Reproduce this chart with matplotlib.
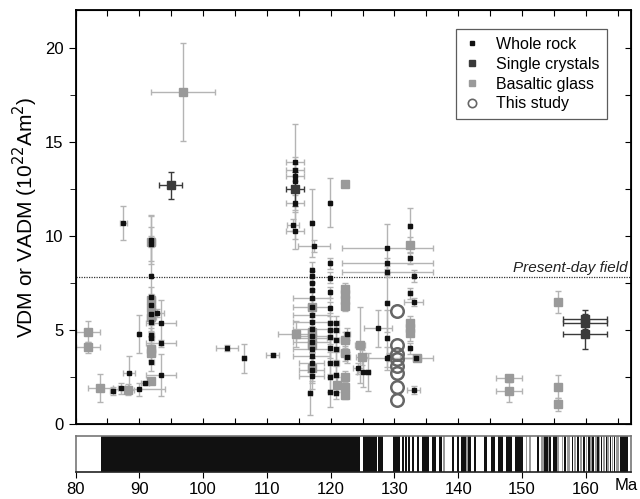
import numpy as np
import matplotlib
matplotlib.use("Agg")
import matplotlib.pyplot as plt
from matplotlib.lines import Line2D
import matplotlib.transforms as mtransforms

plt.rcParams["font.family"] = ["Liberation Sans", "DejaVu Sans"]

# ---- whole rock: age (Ma), VDM, age error, VDM error ----
wr_age = [87.5, 85.8, 87.2, 89.9, 88.4, 89.9, 90.9, 91.9, 91.9, 91.9, 91.9, 91.9, 91.9,
          91.9, 91.9, 91.9, 91.9, 92.7, 93.4, 93.4, 93.4, 103.8, 106.4, 110.9,
          114.4, 114.4, 114.4, 114.4, 114.1, 114.4, 114.4, 117.0, 117.4,
          117.0, 117.0, 117.0, 117.0, 117.0, 117.0, 117.0, 117.0, 117.0, 117.0, 117.0,
          117.0, 117.0, 117.0, 117.0, 117.0, 116.8,
          119.9, 119.9, 119.9, 119.9, 119.9, 119.9, 119.9, 119.9, 119.9, 119.9, 119.9, 119.9,
          120.9, 120.9, 120.9, 120.9, 120.9, 120.9, 120.9, 122.6, 122.6, 124.3, 125.0,
          125.9, 127.4, 129.2, 128.9, 128.9, 128.9, 128.9, 128.9, 128.9,
          132.4, 132.4, 133.0, 132.4, 133.0, 132.4, 133.0, 133.4]
wr_vdm = [10.67, 1.75, 1.90, 1.86, 2.70, 4.79, 2.20, 7.87, 9.79, 9.55, 6.77, 6.33, 5.85,
          5.40, 4.73, 4.55, 3.31, 5.90, 5.39, 4.29, 2.61, 4.06, 3.49, 3.67,
          13.90, 13.50, 13.19, 11.77, 10.58, 10.28, 12.90, 10.70, 9.47,
          8.20, 7.85, 7.50, 7.10, 6.70, 6.20, 5.80, 5.40, 5.05, 4.70, 4.35,
          4.00, 3.60, 3.25, 2.90, 2.55, 1.63,
          11.77, 8.55, 7.78, 7.00, 6.19, 5.37, 5.00, 4.65, 4.04, 3.24, 2.52, 1.72,
          5.36, 5.00, 4.47, 4.00, 3.23, 2.60, 1.66, 4.79, 3.55, 2.96, 2.78,
          2.78, 5.09, 3.58, 9.34, 8.55, 8.10, 6.42, 4.56, 3.49,
          10.50, 8.81, 7.87, 6.95, 6.50, 4.03, 1.81, 3.49]
wr_xerr = [0.5, 0.4, 0.5, 4.1, 0.9, 0.1, 0.6, 0.1, 0.4, 0.4, 0.4, 0.4, 0.4,
           0.4, 0.4, 0.4, 0.4, 1.2, 2.4, 2.4, 2.4, 1.7, 0.3, 1.0,
           1.4, 1.4, 1.4, 1.4, 0.9, 1.4, 0.1, 0.2, 2.5,
           0.3, 0.3, 0.3, 0.3, 2.9, 2.9, 2.9, 2.9, 2.9, 2.9, 2.9,
           2.9, 2.9, 2.0, 2.0, 2.0, 0.3,
           0.1, 0.2, 0.2, 0.2, 0.2, 0.3, 0.3, 0.3, 0.3, 0.3, 0.3, 0.3,
           0.4, 0.4, 0.4, 0.4, 0.4, 0.3, 0.3, 0.5, 0.5, 0.8, 0.8,
           0.3, 2.2, 0.5, 7.1, 7.1, 7.1, 0.2, 0.2, 4.0,
           0.2, 0.2, 0.3, 0.3, 1.5, 0.2, 1.0, 2.6]
wr_yerr = [0.9, 0.2, 0.3, 0.35, 0.9, 1.0, 0.1, 3.2, 1.3, 0.9, 0.5, 0.4, 0.5,
           0.5, 0.4, 0.4, 0.5, 0.2, 1.2, 0.2, 1.1, 0.15, 0.78, 0.1,
           0.3, 0.3, 0.3, 0.4, 0.3, 1.0, 3.05, 1.8, 0.3,
           0.4, 0.3, 0.3, 0.4, 0.3, 0.4, 0.4, 0.5, 0.5, 0.4, 0.5,
           0.5, 0.5, 0.6, 0.6, 0.7, 1.15,
           1.3, 0.3, 0.3, 0.3, 0.3, 0.4, 0.4, 0.4, 0.5, 0.6, 0.8, 0.8,
           0.4, 0.4, 0.6, 0.6, 0.6, 0.5, 0.3, 0.3, 0.3, 0.3, 0.8,
           1.0, 1.0, 0.2, 1.3, 0.3, 0.3, 1.5, 1.5, 0.6,
           1.0, 0.3, 0.3, 0.3, 0.2, 0.3, 0.2, 0.1]

# ---- single crystals ----
sc_age = [94.9, 114.4, 159.9, 159.9, 159.9]
sc_vdm = [12.68, 12.48, 5.57, 5.36, 4.77]
sc_xerr = [1.8, 1.4, 3.4, 3.4, 3.4]
sc_yerr = [0.7, 0.9, 0.5, 0.5, 0.8]

# ---- basaltic glass ----
bg_age = [81.9, 81.9, 83.9, 88.2, 91.9, 91.9, 91.9, 91.9, 91.9, 91.9, 91.9, 96.9,
          114.56, 117.0, 117.0, 117.0, 117.0, 117.0, 122.3, 122.3, 122.3, 122.3, 122.3,
          122.3, 122.3, 122.3, 122.3, 122.3, 121.0, 124.6, 124.9, 132.4, 132.4, 132.4,
          132.4, 133.6, 148.0, 148.0, 155.6, 155.6, 155.6]
bg_vdm = [4.91, 4.08, 1.90, 1.84, 9.70, 6.60, 6.15, 5.67, 4.00, 3.80, 2.30, 17.62,
          4.79, 6.20, 4.90, 4.60, 4.20, 3.00, 12.77, 7.20, 6.90, 6.60, 6.30,
          4.47, 3.76, 2.52, 1.99, 1.54, 2.10, 4.20, 3.55, 9.52, 5.37, 5.10,
          4.84, 3.49, 2.43, 1.77, 6.49, 1.99, 1.06]
bg_xerr = [1.9, 1.9, 2.0, 1.0, 0.6, 0.6, 0.6, 0.7, 0.6, 0.6, 0.4, 5.0,
           2.8, 0.5, 0.6, 2.5, 0.5, 0.5, 0.4, 0.3, 0.3, 0.3, 0.3,
           0.6, 0.6, 0.5, 0.5, 0.5, 0.5, 0.8, 1.0, 0.3, 0.3, 0.3,
           0.3, 0.5, 2.0, 2.0, 0.3, 0.3, 0.3]
bg_yerr = [0.55, 0.3, 0.74, 0.3, 0.3, 0.3, 0.3, 0.4, 0.3, 0.4, 0.15, 2.6,
           0.68, 0.5, 0.5, 0.5, 1.0, 0.8, 0.1, 0.3, 0.3, 0.3, 0.3,
           0.4, 0.4, 0.3, 0.3, 0.2, 0.4, 2.0, 0.4, 0.4, 0.4, 0.4,
           0.4, 0.1, 0.2, 0.6, 0.59, 0.6, 0.35]

# ---- this study ----
ts_age = [130.4] * 8
ts_vdm = [6.0, 4.2, 3.7, 3.45, 3.1, 2.7, 1.95, 1.3]

PRESENT_FIELD = 7.8

# ---- polarity timescale (normal = black, uncertain = gray) ----
black_chrons = [(84.0, 124.6), (125.1, 127.2), (127.5, 128.2), (129.85, 130.9), (131.15, 131.45),
                (131.65, 131.95), (132.2, 132.5), (132.7, 133.0), (133.5, 133.9), (134.4, 135.35),
                (135.85, 136.5), (137.0, 137.4), (138.95, 139.35), (139.75, 140.1), (140.5, 142.05),
                (142.4, 142.8), (144.0, 144.5), (145.1, 145.8), (146.2, 146.95), (147.5, 148.5),
                (148.9, 150.1), (152.3, 152.6), (153.4, 154.05), (154.3, 154.6), (154.9, 155.5),
                (156.6, 156.85), (157.8, 158.0), (158.6, 158.95), (159.6, 159.85), (160.3, 160.6),
                (161.0, 161.3), (161.8, 162.0), (162.4, 162.6), (163.1, 163.3), (163.8, 164.0),
                (164.4, 164.6), (165.4, 166.7)]
gray_chrons = [(137.65, 137.95), (141.2, 141.6), (150.6, 150.8), (151.1, 151.4), (153.0, 153.4),
               (154.05, 154.3), (155.5, 155.75), (156.2, 156.5), (157.1, 157.6), (158.2, 158.5),
               (159.1, 159.4), (160.0, 160.25), (160.7, 160.95), (161.4, 161.7), (162.1, 162.3),
               (162.75, 163.0), (163.4, 163.65), (164.1, 164.3), (164.7, 165.2)]

XMIN, XMAX = 80, 167.1

fig = plt.figure(figsize=(6.4, 4.99), dpi=100)
ax = fig.add_axes([0.118, 0.150, 0.868, 0.830])
axb = fig.add_axes([0.118, 0.054, 0.868, 0.072])

ecol = "#b4b4b4"
ax.errorbar(bg_age, bg_vdm, xerr=bg_xerr, yerr=bg_yerr, fmt="none", ecolor=ecol,
            elinewidth=1.0, capsize=2.5, capthick=1.0, zorder=2)
ax.errorbar(wr_age, wr_vdm, xerr=wr_xerr, yerr=wr_yerr, fmt="none", ecolor=ecol,
            elinewidth=1.0, capsize=2.5, capthick=1.0, zorder=2)
ax.errorbar(sc_age, sc_vdm, xerr=sc_xerr, yerr=sc_yerr, fmt="none", ecolor="#3a3a3a",
            elinewidth=1.0, capsize=2.5, capthick=1.0, zorder=3)
ax.plot(bg_age, bg_vdm, "s", ms=5.5, color="#9a9a9a", mec="#9a9a9a", ls="none", zorder=4)
ax.plot(wr_age, wr_vdm, "s", ms=2.7, color="#111111", mec="#111111", ls="none", zorder=5)
ax.plot(sc_age, sc_vdm, "s", ms=5.5, color="#3a3a3a", mec="#3a3a3a", ls="none", zorder=5)
ax.plot(ts_age, ts_vdm, "o", ms=9, mfc="none", mec="#666666", mew=1.8, ls="none", zorder=6)

ax.axhline(PRESENT_FIELD, color="#333333", lw=0.9, ls=(0, (1, 1)), zorder=1)
ax.text(166.6, PRESENT_FIELD + 0.12, "Present-day field", style="italic", fontsize=11,
        ha="right", va="bottom", color="#222222")

ax.set_xlim(XMIN, XMAX)
ax.set_ylim(0, 22)
ax.set_yticks([0, 5, 10, 15, 20])
ax.set_yticks(np.arange(2.5, 22, 5), minor=True)
ax.set_xticks(np.arange(80, 167, 5))
ax.tick_params(axis="x", which="both", direction="in", top=True, bottom=True,
               labelbottom=False, length=4)
ax.tick_params(axis="y", which="major", direction="out", length=5, labelsize=12)
ax.tick_params(axis="y", which="minor", direction="out", length=4)
for sp in ax.spines.values():
    sp.set_linewidth(1.3)
ax.set_ylabel("VDM or VADM (10$^{22}$Am$^2$)", fontsize=15, labelpad=4)

# right-hand ticks pointing inward
axr = ax.twinx()
axr.set_ylim(0, 22)
axr.set_yticks(np.arange(0, 22.1, 2.5))
axr.tick_params(axis="y", direction="in", length=4, labelright=False)

handles = [
    Line2D([], [], ls="none", marker="s", ms=3.0, color="#111111"),
    Line2D([], [], ls="none", marker="s", ms=5, color="#3a3a3a"),
    Line2D([], [], ls="none", marker="s", ms=5, color="#9a9a9a"),
    Line2D([], [], ls="none", marker="o", ms=6, mfc="none", mec="#666666", mew=1.2),
]
labels = ["Whole rock", "Single crystals", "Basaltic glass", "This study"]
leg = ax.legend(handles, labels, loc="upper right", bbox_to_anchor=(0.957, 0.954),
                fontsize=11.5, frameon=True, fancybox=False, edgecolor="#333333",
                handlelength=1.0, handletextpad=1.0, labelspacing=0.3,
                borderpad=0.5, borderaxespad=0)
leg.get_frame().set_linewidth(0.9)
leg.set_zorder(10)

# polarity bar
axb.broken_barh([(a, b - a) for a, b in black_chrons], (0, 1), facecolors="#111111")
axb.broken_barh([(a, b - a) for a, b in gray_chrons], (0, 1), facecolors="#9a9a9a")
axb.set_xlim(XMIN, XMAX)
axb.set_ylim(0, 1)
axb.set_yticks([])
axb.set_xticks(np.arange(80, 161, 10))
axb.tick_params(axis="x", direction="out", length=4, labelsize=12, pad=3)
for sp in axb.spines.values():
    sp.set_color("#777777")
    sp.set_linewidth(1.2)
axb.spines["bottom"].set_color("#222222")
trans = mtransforms.blended_transform_factory(axb.transData, axb.transAxes)
axb.text(164.6, -0.17, "Ma", transform=trans, fontsize=12, ha="left", va="top")

fig.savefig("out.png", dpi=100)
